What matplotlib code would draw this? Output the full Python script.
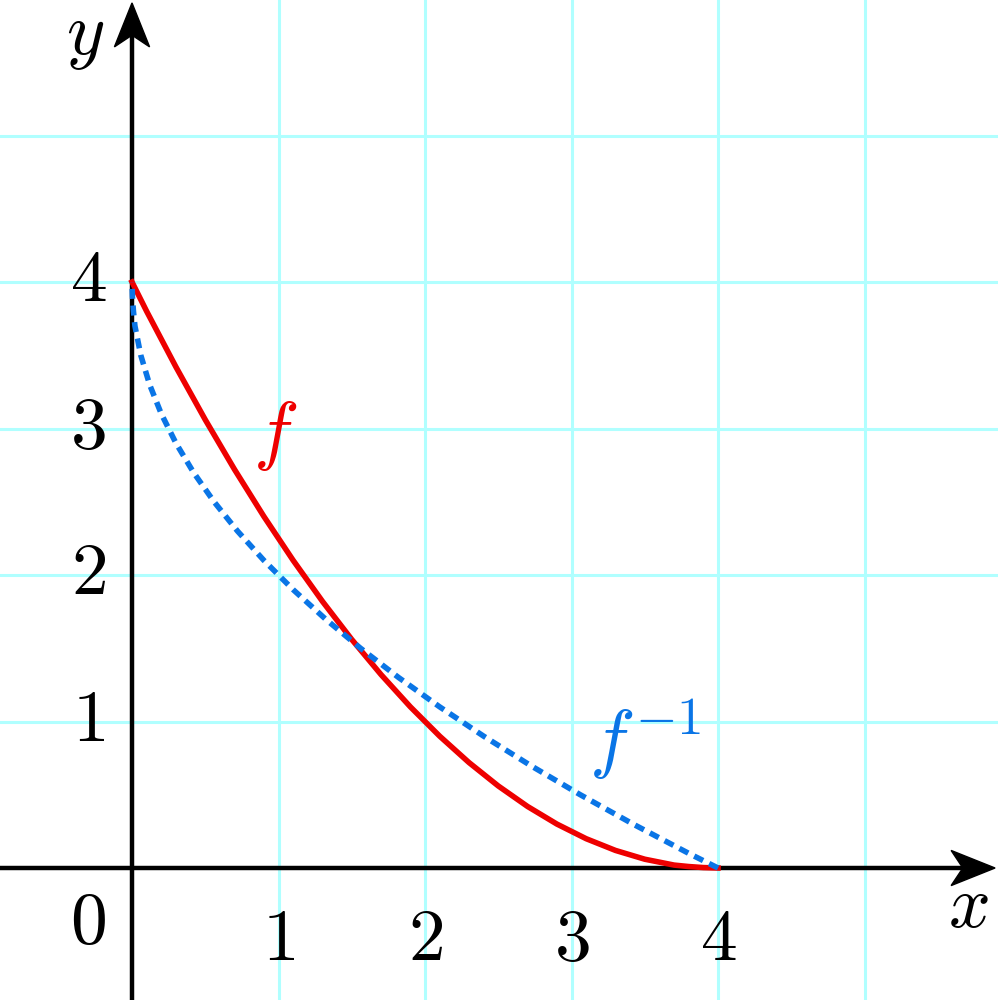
import matplotlib
matplotlib.use('Agg')
import matplotlib.pyplot as plt
from matplotlib.patches import Polygon

plt.rcParams['mathtext.fontset'] = 'cm'
plt.rcParams['font.family'] = ['DejaVu Serif']

f_x = [0.0, 0.1, 0.2, 0.3, 0.4, 0.5, 0.6, 0.7, 0.8, 0.9, 1.0,
       1.1, 1.2, 1.3, 1.4, 1.5, 1.6, 1.7, 1.8, 1.9, 2.0,
       2.1, 2.2, 2.3, 2.4, 2.5, 2.6, 2.7, 2.8, 2.9, 3.0,
       3.1, 3.2, 3.3, 3.4, 3.5, 3.6, 3.7, 3.8, 3.9, 4.0]
f_y = [4.0, 3.80, 3.61, 3.42, 3.24, 3.06, 2.89, 2.72, 2.56, 2.40, 2.25,
       2.10, 1.96, 1.82, 1.69, 1.56, 1.44, 1.32, 1.21, 1.10, 1.0,
       0.90, 0.81, 0.72, 0.64, 0.56, 0.49, 0.42, 0.36, 0.30, 0.25,
       0.20, 0.16, 0.12, 0.09, 0.06, 0.04, 0.02, 0.01, 0.003, 0.0]
# inverse function: the same points with coordinates swapped
finv_x = f_y
finv_y = f_x

ticks = [1, 2, 3, 4]
grid_vals = [1, 2, 3, 4, 5]

xmin, xmax = -0.901, 5.911
ymin, ymax = -0.901, 5.925

fig = plt.figure(figsize=(9.98, 10), dpi=100)
ax = fig.add_axes([0, 0, 1, 1])
ax.set_xlim(xmin, xmax)
ax.set_ylim(ymin, ymax)
ax.axis('off')

# grid
for g in grid_vals:
    ax.axvline(g, color='#b0ffff', lw=2.2, zorder=0)
    ax.axhline(g, color='#b0ffff', lw=2.2, zorder=0)

# axes
ax.plot([xmin, xmax - 0.15], [0, 0], color='black', lw=3.2, zorder=2)
ax.plot([0, 0], [ymin, ymax - 0.15], color='black', lw=3.2, zorder=2)

# stealth arrowheads
L, W, B = 0.30, 0.12, 0.08
ax.add_patch(Polygon([(xmax - 0.02, 0), (xmax - 0.02 - L, W), (xmax - 0.02 - L + B, 0),
                      (xmax - 0.02 - L, -W)], closed=True, color='black', zorder=3))
ax.add_patch(Polygon([(0, ymax - 0.02), (W, ymax - 0.02 - L), (0, ymax - 0.02 - L + B),
                      (-W, ymax - 0.02 - L)], closed=True, color='black', zorder=3))

# curves
ax.plot(f_x, f_y, color='#ee0000', lw=4.0, zorder=4)
ax.plot(finv_x, finv_y, color='#0a75e6', lw=4.0, dashes=(1.8, 1.2), zorder=5)

fs = 53
for t in ticks:
    ax.text(t, -0.49, '$%d$' % t, fontsize=fs, ha='center', va='center')
    ax.text(-0.30, t + 0.01, '$%d$' % t, fontsize=fs, ha='center', va='center')
ax.text(-0.30, -0.37, '$0$', fontsize=fs, ha='center', va='center')

ax.text(5.71, -0.26, '$x$', fontsize=fs, ha='center', va='center')
ax.text(-0.32, 5.68, '$y$', fontsize=fs, ha='center', va='center')

ax.text(0.98, 2.95, '$f$', fontsize=fs + 2, ha='center', va='center', color='#ee0000')
ax.text(3.50, 0.88, '$f^{-1}$', fontsize=fs + 2, ha='center', va='center', color='#0a75e6')

fig.savefig('out.png', dpi=100)
